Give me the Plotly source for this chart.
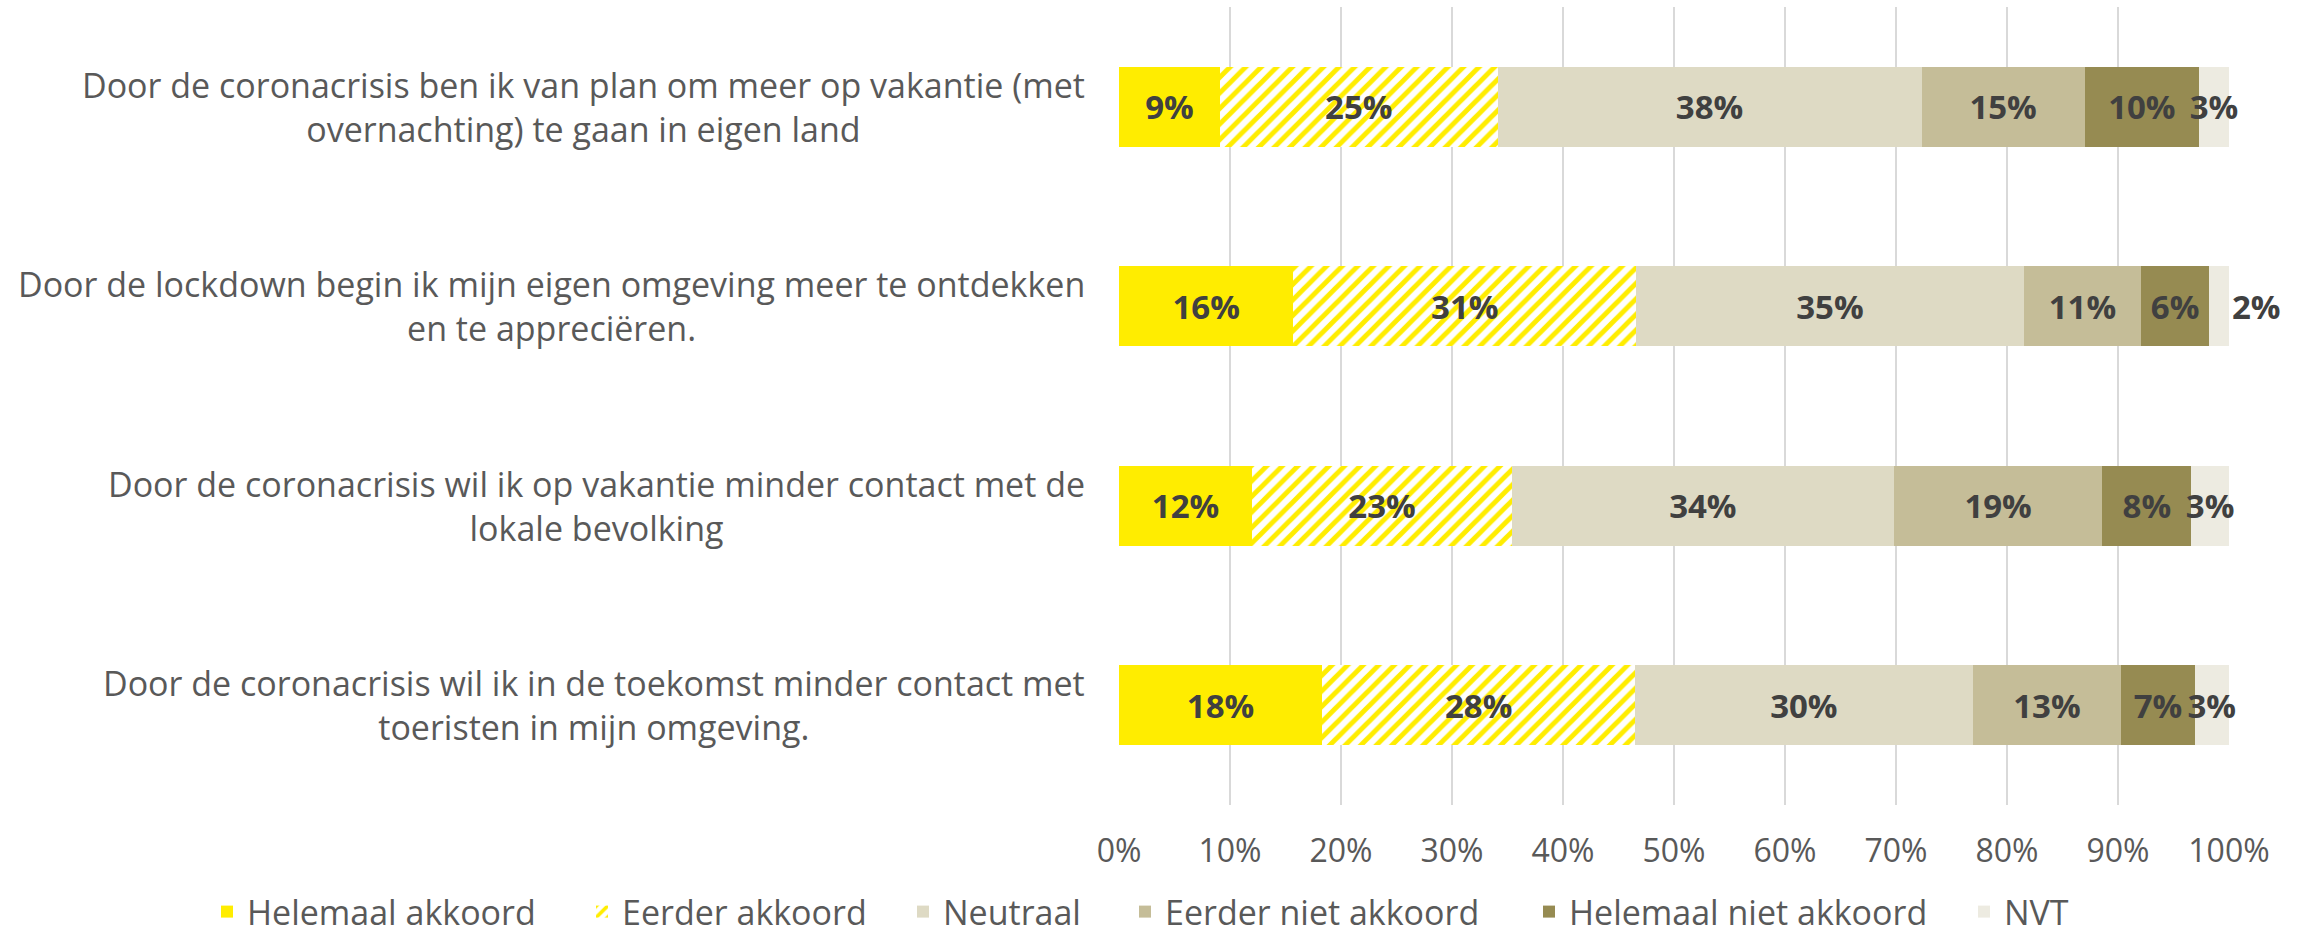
import plotly.graph_objects as go

categories = [
    "Door de coronacrisis ben ik van plan om meer op vakantie (met<br>overnachting) te gaan in eigen land",
    "Door de lockdown begin ik mijn eigen omgeving meer te ontdekken<br>en te appreciëren.",
    "Door de coronacrisis wil ik op vakantie minder contact met de<br>lokale bevolking",
    "Door de coronacrisis wil ik in de toekomst minder contact met<br>toeristen in mijn omgeving.",
]

series_names = ["Helemaal akkoord", "Eerder akkoord", "Neutraal",
                "Eerder niet akkoord", "Helemaal niet akkoord", "NVT"]

helemaal_akkoord = [9.1, 15.7, 12.0, 18.3]
eerder_akkoord = [25.0, 30.9, 23.4, 28.2]
neutraal = [38.2, 34.9, 34.4, 30.4]
eerder_niet_akkoord = [14.7, 10.6, 18.8, 13.4]
helemaal_niet_akkoord = [10.3, 6.1, 8.0, 6.6]
nvt = [2.7, 1.8, 3.4, 3.1]

tick_values = [0, 10, 20, 30, 40, 50, 60, 70, 80, 90, 100]
tick_labels = ["0%", "10%", "20%", "30%", "40%", "50%", "60%", "70%", "80%", "90%", "100%"]

values = [helemaal_akkoord, eerder_akkoord, neutraal,
          eerder_niet_akkoord, helemaal_niet_akkoord, nvt]
colors = ["#FFED00", "#FFFFFF", "#DEDAC4", "#C5BD98", "#968B52", "#EDEBE1"]

# legend entry left edges (pixels in the figure)
legend_px = [207, 582, 903, 1125, 1529, 1964]

LABEL_FONT = "Open Sans"
TEXT_COLOR = "#404040"
GREY = "#595959"

L, R, T, B = 1119, 76, 7, 131
W, H = 2305, 936
plot_w = W - L - R
plot_h = H - T - B

fig = go.Figure()
legend_layouts = {}
for k, (name, vals, col) in enumerate(zip(series_names, values, colors)):
    marker = dict(color=col, line=dict(width=0))
    if name == "Eerder akkoord":
        marker["pattern"] = dict(shape="/", fgcolor="#FFED00", bgcolor="#FFFFFF",
                                 size=11, solidity=0.45, fillmode="replace")
    tpos = ["inside", "outside", "inside", "inside"] if name == "NVT" else "inside"
    lg = "legend" if k == 0 else f"legend{k + 1}"
    fig.add_trace(go.Bar(
        name=name, y=categories, x=vals, orientation="h",
        marker=marker,
        text=[f"{v:.0f}%" for v in vals],
        textposition=tpos,
        insidetextanchor="middle",
        textangle=0,
        constraintext="none",
        cliponaxis=False,
        textfont=dict(family=LABEL_FONT, size=33, color=TEXT_COLOR, weight=700),
        hoverinfo="skip",
        legend=lg,
    ))
    legend_layouts[lg] = dict(
        orientation="h", xref="paper", yref="paper",
        x=(legend_px[k] - L) / plot_w, xanchor="left",
        y=(H - B - 912) / plot_h, yanchor="middle",
        font=dict(family=LABEL_FONT, size=34, color=GREY),
        itemwidth=30, bgcolor="rgba(0,0,0,0)",
    )

for cat in categories:
    fig.add_annotation(
        x=0, xref="paper", y=cat, yref="y", xanchor="right", yanchor="middle",
        xshift=-32, text=cat, showarrow=False, align="center",
        font=dict(family=LABEL_FONT, size=34, color=GREY),
    )

fig.update_layout(
    barmode="stack",
    bargap=0.6,
    width=W, height=H,
    margin=dict(l=L, r=R, t=T, b=B, autoexpand=False),
    plot_bgcolor="white", paper_bgcolor="white",
    showlegend=True,
    xaxis=dict(range=[0, 100.0005], tickmode="array", tickvals=tick_values,
               ticktext=tick_labels,
               showgrid=True, gridcolor="#D9D9D9", gridwidth=1.5,
               zeroline=False, showline=False, ticks="",
               ticklabelstandoff=24,
               tickfont=dict(family=LABEL_FONT, size=32, color=GREY)),
    yaxis=dict(autorange="reversed", showticklabels=False, showgrid=False,
               zeroline=False, showline=False, ticks=""),
    **legend_layouts,
)

fig.write_html("out.html", config={"displayModeBar": False},
               post_script="document.body.style.margin='0';")
